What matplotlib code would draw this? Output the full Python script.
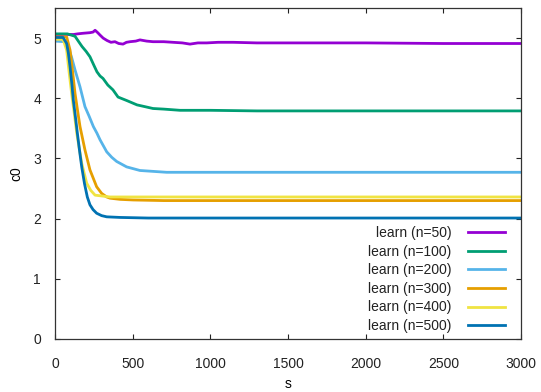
import matplotlib
matplotlib.use("Agg")
import matplotlib.pyplot as plt

plt.rcParams['font.family'] = ['Liberation Sans', 'DejaVu Sans']

# n=50
s50 = [0, 60, 120, 145, 180, 225, 245, 258, 275, 290, 310, 335, 360, 386, 410, 438, 460, 483, 520, 547, 590, 631, 700, 760, 820, 869, 920, 977, 1050, 1147, 1300, 1577, 2000, 2500, 3000]
c50 = [5.05, 5.06, 5.06, 5.07, 5.08, 5.09, 5.10, 5.13, 5.09, 5.05, 5.00, 4.96, 4.93, 4.94, 4.91, 4.90, 4.93, 4.94, 4.95, 4.97, 4.95, 4.94, 4.94, 4.93, 4.92, 4.90, 4.92, 4.92, 4.93, 4.93, 4.92, 4.92, 4.92, 4.91, 4.91]
# n=100
s100 = [0, 80, 129, 150, 174, 200, 225, 250, 270, 290, 309, 340, 373, 406, 435, 464, 528, 580, 631, 700, 805, 1000, 1300, 1600, 2000, 3000]
c100 = [5.07, 5.07, 5.03, 4.95, 4.86, 4.78, 4.69, 4.55, 4.44, 4.37, 4.33, 4.22, 4.14, 4.02, 3.99, 3.96, 3.89, 3.86, 3.83, 3.82, 3.80, 3.80, 3.79, 3.79, 3.79, 3.79]
# n=200
s200 = [0, 64, 86, 107, 129, 161, 193, 220, 247, 270, 290, 333, 365, 397, 461, 547, 719, 1000, 2000, 3000]
c200 = [4.95, 4.94, 4.85, 4.68, 4.47, 4.19, 3.86, 3.70, 3.53, 3.42, 3.31, 3.11, 3.02, 2.95, 2.86, 2.80, 2.77, 2.77, 2.77, 2.77]
# n=300
s300 = [0, 75, 97, 113, 129, 145, 161, 193, 225, 268, 300, 333, 354, 420, 504, 700, 1000, 2000, 3000]
c300 = [5.02, 5.02, 4.80, 4.45, 4.08, 3.80, 3.53, 3.14, 2.81, 2.53, 2.42, 2.36, 2.34, 2.32, 2.31, 2.30, 2.30, 2.30, 2.30]
# n=400
s400 = [0, 52, 75, 90, 107, 124, 140, 172, 204, 230, 258, 290, 354, 500, 1000, 2000, 3000]
c400 = [4.98, 4.98, 4.80, 4.45, 4.08, 3.75, 3.42, 2.92, 2.59, 2.47, 2.39, 2.38, 2.36, 2.36, 2.36, 2.36, 2.36]
# n=500
s500 = [0, 52, 75, 86, 97, 108, 118, 131, 144, 158, 172, 190, 208, 225, 245, 268, 300, 333, 418, 600, 1000, 2000, 3000]
c500 = [5.01, 5.01, 4.91, 4.75, 4.52, 4.25, 3.97, 3.70, 3.42, 3.13, 2.86, 2.58, 2.36, 2.23, 2.15, 2.09, 2.05, 2.03, 2.02, 2.01, 2.01, 2.01, 2.01]

labels = ['learn (n=50)', 'learn (n=100)', 'learn (n=200)', 'learn (n=300)', 'learn (n=400)', 'learn (n=500)']
colors = ['#9400D3', '#009E73', '#56B4E9', '#E69F00', '#F0E442', '#0072B2']
series = [(s50, c50), (s100, c100), (s200, c200), (s300, c300), (s400, c400), (s500, c500)]

xticks = [0, 500, 1000, 1500, 2000, 2500, 3000]
yticks = [0, 1, 2, 3, 4, 5]

fig = plt.figure(figsize=(5.41, 3.92), dpi=100)
ax = fig.add_axes([55/541, 53/392, 466/541, 331/392])

for (xs, ys), col, lab in zip(series, colors, labels):
    ax.plot(xs, ys, color=col, lw=2.0, label=lab)

ax.set_xlim(0, 3000)
ax.set_ylim(0, 5.5)
ax.set_xticks(xticks)
ax.set_yticks(yticks)
ax.tick_params(direction='in', length=3.5, width=0.8, top=True, right=True,
               labelsize=10, colors='#222222')
ax.tick_params(axis='x', pad=13)
ax.tick_params(axis='y', pad=10)
for sp in ax.spines.values():
    sp.set_color('#333333')
    sp.set_linewidth(0.9)

ax.set_xlabel('s', fontsize=10, labelpad=4)
ax.set_ylabel('c0', fontsize=10, labelpad=7)

leg = ax.legend(loc='lower right', bbox_to_anchor=(0.966, 0.018), frameon=False,
                markerfirst=False, fontsize=10, handlelength=2.7, handletextpad=1.15,
                labelspacing=0.33, borderaxespad=0, borderpad=0)
for t in leg.get_texts():
    t.set_ha('right')
    t.set_color('#222222')

fig.savefig('out.png', dpi=100)
